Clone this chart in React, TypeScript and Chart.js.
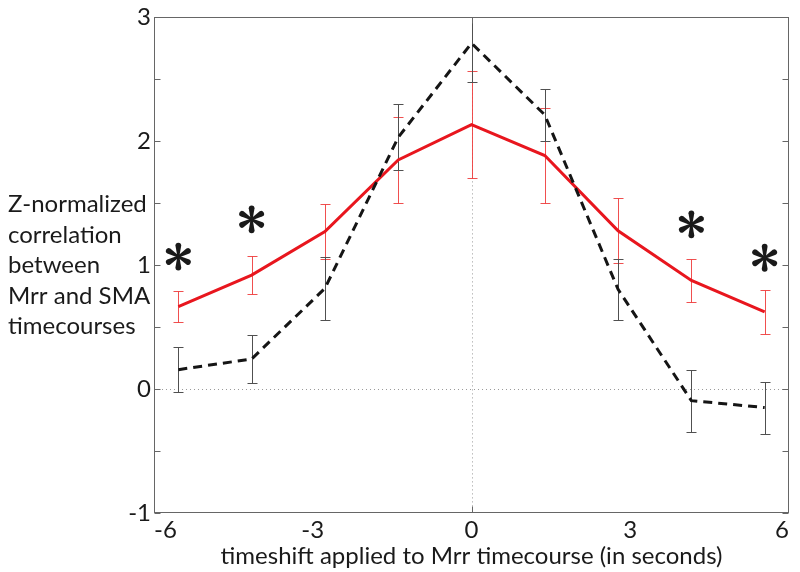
import React, { useEffect, useRef } from 'react';
import { Chart, registerables } from 'chart.js';

Chart.register(...registerables);

// ---- data ----
const timeshifts = [-5.54, -4.155, -2.77, -1.385, 0, 1.385, 2.77, 4.155, 5.54];
const redValues = [0.665, 0.92, 1.272, 1.85, 2.135, 1.885, 1.278, 0.877, 0.624];
const redErrors = [0.125, 0.152, 0.222, 0.347, 0.431, 0.381, 0.262, 0.175, 0.176];
const blackValues = [0.157, 0.243, 0.813, 2.032, 2.792, 2.213, 0.805, -0.093, -0.149];
const blackErrors = [0.18, 0.194, 0.253, 0.266, 0.312, 0.213, 0.245, 0.25, 0.21];
const starX = [-5.54, -4.155, 4.155, 5.54];
const starY = [1.07, 1.37, 1.33, 1.06];
const xTicks = [-6, -3, 0, 3, 6];
const yTicks = [-1, 0, 1, 2, 3];
const yTitleLines = ['Z-normalized', 'correlation', 'between', 'Mrr and SMA', 'timecourses'];
const xTitle = 'timeshift applied to Mrr timecourse (in seconds)';

const FONT = 'Lato';
const TEXT = '#1a1a1a';
const RED = '#e8161e';
const BLACK = '#151515';

function drawStar(ctx: CanvasRenderingContext2D, cx: number, cy: number, r: number) {
  ctx.save();
  ctx.fillStyle = '#1a1a1a';
  for (let k = 0; k < 6; k++) {
    const ang = -Math.PI / 2 + (k * Math.PI) / 3;
    const dx = Math.cos(ang), dy = Math.sin(ang);
    const px = -dy, py = dx;
    const w0 = 1.0, w1 = 2.9;
    const ex = cx + dx * r, ey = cy + dy * r;
    ctx.beginPath();
    ctx.moveTo(cx + px * w0, cy + py * w0);
    ctx.lineTo(ex + px * w1, ey + py * w1);
    ctx.arc(ex, ey, w1, ang + Math.PI / 2, ang - Math.PI / 2, true);
    ctx.lineTo(cx - px * w0, cy - py * w0);
    ctx.closePath();
    ctx.fill();
  }
  ctx.beginPath();
  ctx.arc(cx, cy, 2.2, 0, Math.PI * 2);
  ctx.fill();
  ctx.restore();
}

const decorPlugin = {
  id: 'decor',
  beforeDatasetsDraw(chart: any) {
    const { ctx, chartArea: a, scales } = chart;
    const x = scales.x, y = scales.y;
    ctx.save();
    ctx.beginPath();
    ctx.rect(a.left, a.top, a.right - a.left, a.bottom - a.top);
    ctx.clip();
    // dotted zero lines
    ctx.strokeStyle = '#9a9a9a';
    ctx.lineWidth = 1;
    ctx.setLineDash([1, 3]);
    const x0 = Math.round(x.getPixelForValue(0)) + 0.5;
    const y0 = Math.round(y.getPixelForValue(0)) + 0.5;
    ctx.beginPath();
    ctx.moveTo(x0, a.top);
    ctx.lineTo(x0, a.bottom);
    ctx.moveTo(a.left, y0);
    ctx.lineTo(a.right, y0);
    ctx.stroke();
    ctx.setLineDash([]);
    const drawErr = (vals: number[], errs: number[], color: string) => {
      ctx.strokeStyle = color;
      ctx.lineWidth = 1;
      ctx.beginPath();
      for (let i = 0; i < vals.length; i++) {
        const px = Math.round(x.getPixelForValue(timeshifts[i])) + 0.5;
        const top = Math.round(y.getPixelForValue(vals[i] + errs[i])) + 0.5;
        const bot = Math.round(y.getPixelForValue(vals[i] - errs[i])) + 0.5;
        ctx.moveTo(px, top);
        ctx.lineTo(px, bot);
        ctx.moveTo(px - 5, top);
        ctx.lineTo(px + 5, top);
        ctx.moveTo(px - 5, bot);
        ctx.lineTo(px + 5, bot);
      }
      ctx.stroke();
    };
    drawErr(redValues, redErrors, 'rgba(238,60,60,0.9)');
    drawErr(blackValues, blackErrors, '#505050');
    ctx.restore();
  },
  afterDatasetsDraw(chart: any) {
    const { ctx, scales } = chart;
    for (let i = 0; i < starX.length; i++) {
      drawStar(ctx, scales.x.getPixelForValue(starX[i]), scales.y.getPixelForValue(starY[i]), 11);
    }
  },
  afterDraw(chart: any) {
    const { ctx, chartArea: a, scales } = chart;
    const y = scales.y, x = scales.x;
    ctx.save();
    ctx.strokeStyle = '#666666';
    ctx.lineWidth = 1;
    const L = Math.round(a.left) + 0.5, R = Math.round(a.right) - 0.5;
    const T = Math.round(a.top) + 0.5, B = Math.round(a.bottom) - 0.5;
    ctx.strokeRect(L, T, R - L, B - T);
    ctx.beginPath();
    for (let v = y.min; v <= y.max + 1e-9; v += 0.5) {
      const py = Math.round(y.getPixelForValue(v)) + 0.5;
      ctx.moveTo(L, py);
      ctx.lineTo(L + 6, py);
      ctx.moveTo(R, py);
      ctx.lineTo(R - 6, py);
    }
    const px0 = Math.round(x.getPixelForValue(0)) + 0.5;
    ctx.moveTo(px0, B);
    ctx.lineTo(px0, B - 6);
    ctx.moveTo(px0, T);
    ctx.lineTo(px0, T + 6);
    ctx.stroke();
    // horizontal y-axis title
    ctx.fillStyle = TEXT;
    ctx.font = `24px ${FONT}`;
    ctx.textAlign = 'left';
    ctx.textBaseline = 'alphabetic';
    const base = 212;
    yTitleLines.forEach((line, i) => ctx.fillText(line, 8, base + i * 30.5));
    ctx.restore();
  },
};

export default function App() {
  const ref = useRef<HTMLCanvasElement | null>(null);
  useEffect(() => {
    if (!ref.current) return;
    const chart = new Chart(ref.current, {
      type: 'line',
      data: {
        datasets: [
          {
            label: 'shuffled',
            data: timeshifts.map((t, i) => ({ x: t, y: blackValues[i] })),
            borderColor: BLACK,
            borderWidth: 3,
            borderDash: [9, 6],
            pointRadius: 0,
            fill: false,
            tension: 0,
          },
          {
            label: 'actual',
            data: timeshifts.map((t, i) => ({ x: t, y: redValues[i] })),
            borderColor: RED,
            borderWidth: 3,
            pointRadius: 0,
            fill: false,
            tension: 0,
          },
        ],
      },
      options: {
        responsive: false,
        animation: false,
        events: [],
        layout: { padding: { top: 13, right: 11, left: 0, bottom: 0 } },
        plugins: { legend: { display: false }, tooltip: { enabled: false }, title: { display: false } },
        scales: {
          x: {
            type: 'linear',
            min: -6,
            max: 6,
            afterBuildTicks: (s: any) => {
              s.ticks = xTicks.map((v) => ({ value: v }));
            },
            afterFit: (s: any) => {
              s.height = 59;
            },
            ticks: {
              font: { family: FONT, size: 24 },
              color: TEXT,
              padding: 3,
              align: 'inner',
              maxRotation: 0,
              autoSkip: false,
            },
            grid: { display: false, drawTicks: false },
            border: { display: false },
            title: {
              display: true,
              text: xTitle,
              font: { family: FONT, size: 24 },
              color: TEXT,
              padding: { top: 0, bottom: 1 },
            },
          },
          y: {
            type: 'linear',
            min: -1,
            max: 3,
            afterBuildTicks: (s: any) => {
              s.ticks = yTicks.map((v) => ({ value: v }));
            },
            afterFit: (s: any) => {
              s.width = 154;
            },
            ticks: {
              font: { family: FONT, size: 24 },
              color: TEXT,
              padding: 3,
              autoSkip: false,
            },
            grid: { display: false, drawTicks: false },
            border: { display: false },
          },
        },
      },
      plugins: [decorPlugin],
    } as any);
    return () => chart.destroy();
  }, []);
  return (
    <div style={{ position: 'fixed', left: 0, top: 0, width: 800, height: 572, background: '#fff' }}>
      <canvas ref={ref} width={800} height={572} style={{ width: 800, height: 572, display: 'block' }} />
    </div>
  );
}
